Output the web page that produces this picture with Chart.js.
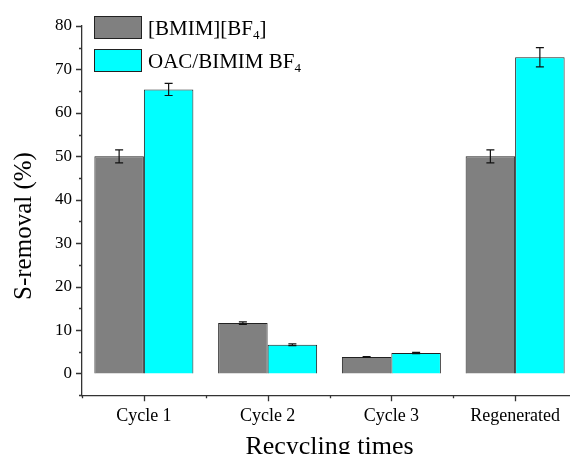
<!DOCTYPE html>
<head>
    <title>S-removal</title>
    <script src="https://cdn.jsdelivr.net/npm/chart.js"></script>
    <style>
        body { margin: 0; overflow: hidden; background: white; }
        #box { width: 590px; height: 454px; }
    </style>
</head>
<body>
<div id="box">
    <canvas id="barChart" width="590" height="454"></canvas>
</div>
<script>
// dane z wykresu
const cycles = ['Cycle 1', 'Cycle 2', 'Cycle 3', 'Regenerated'];
const bmimValues = [50.0, 11.6, 3.8, 50.0];
const bmimErrors = [1.5, 0.3, 0.1, 1.5];
const oacValues = [65.4, 6.6, 4.7, 72.8];
const oacErrors = [1.4, 0.2, 0.15, 2.2];
const yTicks = [0, 10, 20, 30, 40, 50, 60, 70, 80];

const serif = 'Liberation Serif';
const axisColor = '#333';

// slupki bledow
const errorBars = {
    id: 'errorBars',
    afterDatasetsDraw(chart) {
        const ctx = chart.ctx;
        const y = chart.scales.y;
        const errs = [bmimErrors, oacErrors];
        ctx.save();
        ctx.strokeStyle = '#111';
        ctx.lineWidth = 1.2;
        chart.data.datasets.forEach((ds, i) => {
            chart.getDatasetMeta(i).data.forEach((bar, j) => {
                const v = ds.data[j];
                const top = y.getPixelForValue(v + errs[i][j]);
                const bot = y.getPixelForValue(v - errs[i][j]);
                ctx.beginPath();
                ctx.moveTo(bar.x, top); ctx.lineTo(bar.x, bot);
                ctx.moveTo(bar.x - 4, top); ctx.lineTo(bar.x + 4, top);
                ctx.moveTo(bar.x - 4, bot); ctx.lineTo(bar.x + 4, bot);
                ctx.stroke();
            });
        });
        ctx.restore();
    }
};

// kreski na osiach (duze i male) + tytul osi Y
const axisTicks = {
    id: 'axisTicks',
    afterDraw(chart) {
        const ctx = chart.ctx;
        const y = chart.scales.y;
        const x = chart.scales.x;
        const area = chart.chartArea;
        ctx.save();
        ctx.strokeStyle = axisColor;
        ctx.lineWidth = 1.3;
        ctx.beginPath();
        for (let v = -5; v <= 80; v += 5) {
            const py = Math.round(y.getPixelForValue(v)) + 0.5;
            const len = (v % 10 === 0) ? 6 : 3;
            ctx.moveTo(area.left, py); ctx.lineTo(area.left - len, py);
        }
        const step = x.getPixelForValue(1) - x.getPixelForValue(0);
        for (let i = 0; i < cycles.length; i++) {
            const px = Math.round(x.getPixelForValue(i)) + 0.5;
            ctx.moveTo(px, area.bottom); ctx.lineTo(px, area.bottom + 6);
            const pb = Math.round(x.getPixelForValue(i) - step / 2) + 0.5;
            ctx.moveTo(pb, area.bottom); ctx.lineTo(pb, area.bottom + 3);
        }
        ctx.stroke();

        ctx.translate(24, 226);
        ctx.rotate(-Math.PI / 2);
        ctx.fillStyle = '#000';
        ctx.font = '25px "' + serif + '"';
        ctx.textAlign = 'center';
        ctx.textBaseline = 'middle';
        ctx.fillText('S-removal (%)', 0, 0);
        ctx.restore();
    }
};

// legenda z indeksem dolnym
const subLegend = {
    id: 'subLegend',
    afterDraw(chart) {
        const ctx = chart.ctx;
        const items = [
            { color: '#808080', main: '[BMIM][BF', sub: '4', tail: ']' },
            { color: '#00ffff', main: 'OAC/BIMIM BF', sub: '4', tail: '' }
        ];
        ctx.save();
        items.forEach((it, i) => {
            const top = 16 + i * 33;
            ctx.fillStyle = it.color;
            ctx.fillRect(94, top, 48, 23);
            ctx.strokeStyle = '#222';
            ctx.lineWidth = 1;
            ctx.strokeRect(94.5, top + 0.5, 47, 22);
            ctx.fillStyle = '#000';
            ctx.textBaseline = 'alphabetic';
            ctx.font = '21px "' + serif + '"';
            let tx = 148;
            const base = top + 19;
            ctx.fillText(it.main, tx, base);
            tx += ctx.measureText(it.main).width;
            ctx.font = '13px "' + serif + '"';
            ctx.fillText(it.sub, tx, base + 4);
            tx += ctx.measureText(it.sub).width;
            ctx.font = '21px "' + serif + '"';
            ctx.fillText(it.tail, tx, base);
        });
        ctx.restore();
    }
};

new Chart(document.getElementById('barChart'), {
    type: 'bar',
    data: {
        labels: cycles,
        datasets: [{
            label: '[BMIM][BF4]',
            data: bmimValues,
            backgroundColor: '#808080',
            borderColor: '#222',
            borderWidth: 1,
            categoryPercentage: 0.8,
            barPercentage: 1.0
        }, {
            label: 'OAC/BIMIM BF4',
            data: oacValues,
            backgroundColor: '#00ffff',
            borderColor: '#222',
            borderWidth: 1,
            categoryPercentage: 0.8,
            barPercentage: 1.0
        }]
    },
    options: {
        responsive: false,
        animation: false,
        layout: { padding: { top: 26, right: 13, left: 45, bottom: -9 } },
        plugins: {
            legend: { display: false },
            tooltip: { enabled: false }
        },
        scales: {
            x: {
                grid: { display: false, drawTicks: false },
                border: { display: true, color: axisColor, width: 1.3 },
                ticks: {
                    color: '#000',
                    padding: 10,
                    font: { family: serif, size: 18 }
                },
                title: {
                    display: true,
                    text: 'Recycling times',
                    color: '#000',
                    padding: { top: -5, bottom: 0 },
                    font: { family: serif, size: 26 }
                }
            },
            y: {
                min: -5,
                max: 80,
                afterBuildTicks: (axis) => {
                    axis.ticks = yTicks.map(v => ({ value: v }));
                },
                grid: { display: false, drawTicks: false },
                border: { display: true, color: axisColor, width: 1.3 },
                ticks: {
                    color: '#000',
                    padding: 10,
                    font: { family: serif, size: 17 }
                }
            }
        }
    },
    plugins: [errorBars, axisTicks, subLegend]
});
</script>
</body>
